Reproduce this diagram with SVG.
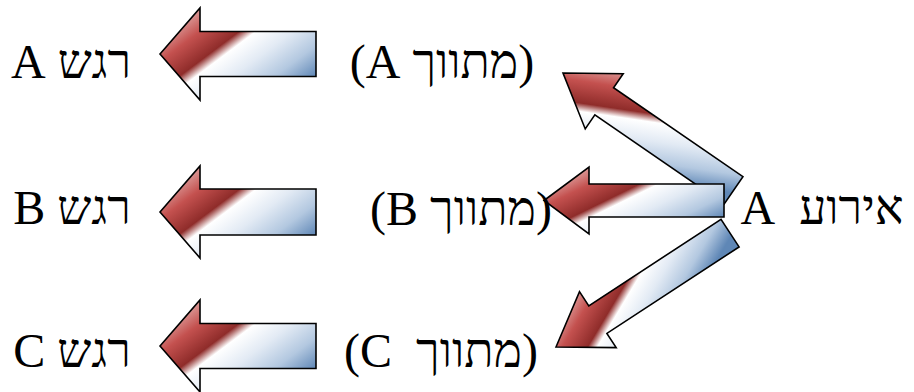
<svg xmlns="http://www.w3.org/2000/svg" width="914" height="392" viewBox="0 0 914 392">
  <style>
    .lbl { font-family: "Liberation Serif", "DejaVu Serif", serif; font-size: 48px; fill: #000; direction: rtl; unicode-bidi: embed; text-anchor: middle; }
    .arrow { stroke: #000; stroke-width: 1.6; stroke-linejoin: miter; }
    .big { fill: url(#gBig); }
    .small { fill: url(#gSmall); }
  </style>
  <defs>
    <!-- red head fading through a white band into steel blue; vectors are in each arrow's local frame -->
    <linearGradient id="gBig" gradientUnits="userSpaceOnUse" x1="-7.7" y1="-10.2" x2="67" y2="89.3">
      <stop offset="0" stop-color="#dc9a98"/>
      <stop offset="0.15" stop-color="#c4514f"/>
      <stop offset="0.34" stop-color="#8f2c2a"/>
      <stop offset="0.42" stop-color="#ffffff"/>
      <stop offset="0.6" stop-color="#e2eaf4"/>
      <stop offset="0.8" stop-color="#b3c8e0"/>
      <stop offset="1" stop-color="#5f87b6"/>
    </linearGradient>
    <linearGradient id="gSmall" gradientUnits="userSpaceOnUse" x1="-4.5" y1="-9.25" x2="41.2" y2="84.2">
      <stop offset="0" stop-color="#dc9a98"/>
      <stop offset="0.15" stop-color="#c4514f"/>
      <stop offset="0.36" stop-color="#8f2c2a"/>
      <stop offset="0.44" stop-color="#ffffff"/>
      <stop offset="0.62" stop-color="#e2eaf4"/>
      <stop offset="0.82" stop-color="#b3c8e0"/>
      <stop offset="1" stop-color="#5f87b6"/>
    </linearGradient>
  </defs>

  <!-- connectors: block arrows -->
  <g id="connectors">
    <!-- event to mediator A -->
    <path class="arrow small" transform="translate(563,73) rotate(34.5)" d="M0,0 L50,-33.5 L50,-16.5 L207,-16.5 L207,16.5 L50,16.5 L50,33.5 Z"/>
    <!-- event to mediator C -->
    <path class="arrow small" transform="translate(556,347) rotate(-33.2)" d="M0,0 L50,-33.5 L50,-16.5 L208,-16.5 L208,16.5 L50,16.5 L50,33.5 Z"/>
    <!-- event to mediator B -->
    <path class="arrow small" transform="translate(544,200.5)" d="M0,0 L45,-33.5 L45,-16.5 L180,-16.5 L180,16.5 L45,16.5 L45,33.5 Z"/>
    <!-- mediators to emotions -->
    <path class="arrow big" transform="translate(160,54)" d="M0,0 L40,-46 L40,-22.5 L156,-22.5 L156,22.5 L40,22.5 L40,46 Z"/>
    <path class="arrow big" transform="translate(160,212)" d="M0,0 L40,-46 L40,-23 L156,-23 L156,23 L40,23 L40,46 Z"/>
    <path class="arrow big" transform="translate(160,346)" d="M0,0 L40,-46 L40,-22.5 L156,-22.5 L156,22.5 L40,22.5 L40,46 Z"/>
  </g>

  <g id="emotionA"><text class="lbl" x="71" y="78">רגש A</text></g>
  <g id="emotionB"><text class="lbl" x="72" y="224">רגש B</text></g>
  <g id="emotionC"><text class="lbl" x="72" y="367">רגש C</text></g>

  <g id="mediatorA"><text class="lbl" x="442" y="78">(מתווך A)</text></g>
  <g id="mediatorB"><text class="lbl" x="461" y="225">(מתווך B)</text></g>
  <g id="mediatorC"><text class="lbl" x="441" y="367">(מתווך&#160; C)</text></g>

  <g id="event"><text class="lbl" x="822" y="224">אירוע&#160; A</text></g>
</svg>
